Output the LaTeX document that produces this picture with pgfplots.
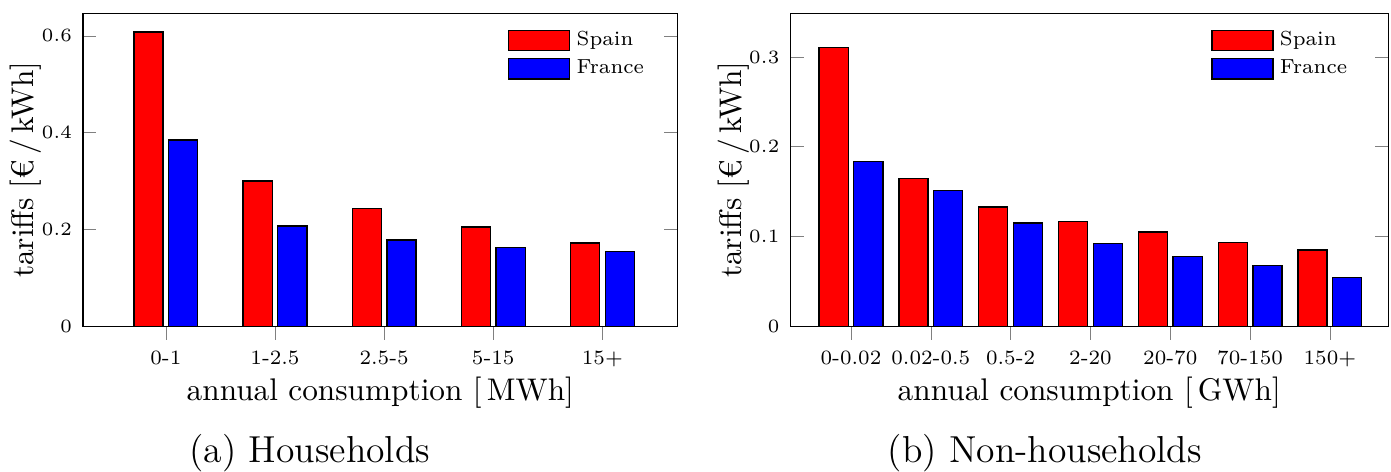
\documentclass[border=0pt]{standalone}
\usepackage{pgfplots}
\pgfplotsset{compat=1.18}
\pgfplotsset{
 myleg/.style={legend image code/.code={\draw[##1] (0pt,-3.3pt) rectangle (19.5pt,3.3pt);}},
 mybar/.style={
  scale only axis, height=100pt,
  ybar=1.8pt, bar width=9.3pt,
  ymin=0,
  xtick=data,
  xtick pos=bottom, xtick align=outside,
  ytick align=inside,
  tick label style={font=\fontsize{6.5}{8}\selectfont},
  legend cell align=left,
  legend style={font=\fontsize{6.5}{8}\selectfont, draw=none, fill=none, inner sep=0pt,
    at={(0.955,0.965)}, anchor=north east, row sep=-1pt, column sep=0pt},
  label style={font=\normalsize},
  xlabel style={at={(axis description cs:0.5,-0.214)}, anchor=center},
  ylabel style={at={(axis description cs:-0.097,0.5)}, anchor=center},
 }
}
\begin{document}
\begin{tikzpicture}
\useasboundingbox (-26.5pt,-46.3pt) rectangle (417.9pt,104.2pt);
\begin{axis}[mybar, width=190pt, at={(0pt,0pt)}, anchor=south west,
  xmin=-0.76, xmax=4.69, ymax=0.647,
  ytick={0,0.2,0.4,0.6},
  xticklabels={0-1,1-2.5,2.5-5,5-15,15+},
  xlabel={annual consumption [\,MWh]},
  ylabel={tariffs [€\,/\,kWh]}]
\addplot[fill=red, draw=black, myleg] coordinates {(0,0.608) (1,0.300) (2,0.243) (3,0.205) (4,0.172)};
\addplot[fill=blue, draw=black, myleg] coordinates {(0,0.385) (1,0.207) (2,0.178) (3,0.162) (4,0.155)};
\legend{Spain,France}
\end{axis}
\begin{axis}[mybar, width=191pt, at={(226pt,0pt)}, anchor=south west,
  xmin=-0.76, xmax=6.73, ymax=0.349,
  ytick={0,0.1,0.2,0.3},
  xticklabels={0-0.02,0.02-0.5,0.5-2,2-20,20-70,70-150,150+},
  xlabel={annual consumption [\,GWh]},
  ylabel={tariffs [€\,/\,kWh]},
  ylabel style={at={(axis description cs:-0.095,0.5)}},
  legend style={at={(0.943,0.965)}}]
\addplot[fill=red, draw=black, myleg] coordinates {(0,0.311) (1,0.165) (2,0.133) (3,0.117) (4,0.105) (5,0.093) (6,0.085)};
\addplot[fill=blue, draw=black, myleg] coordinates {(0,0.184) (1,0.151) (2,0.115) (3,0.092) (4,0.078) (5,0.068) (6,0.054)};
\legend{Spain,France}
\end{axis}
\node[font=\fontsize{12}{14}\selectfont] at (72.5pt,-40.6pt) {(a) Households};
\node[font=\fontsize{12}{14}\selectfont] at (307.3pt,-40.6pt) {(b) Non-households};
\end{tikzpicture}
\end{document}
